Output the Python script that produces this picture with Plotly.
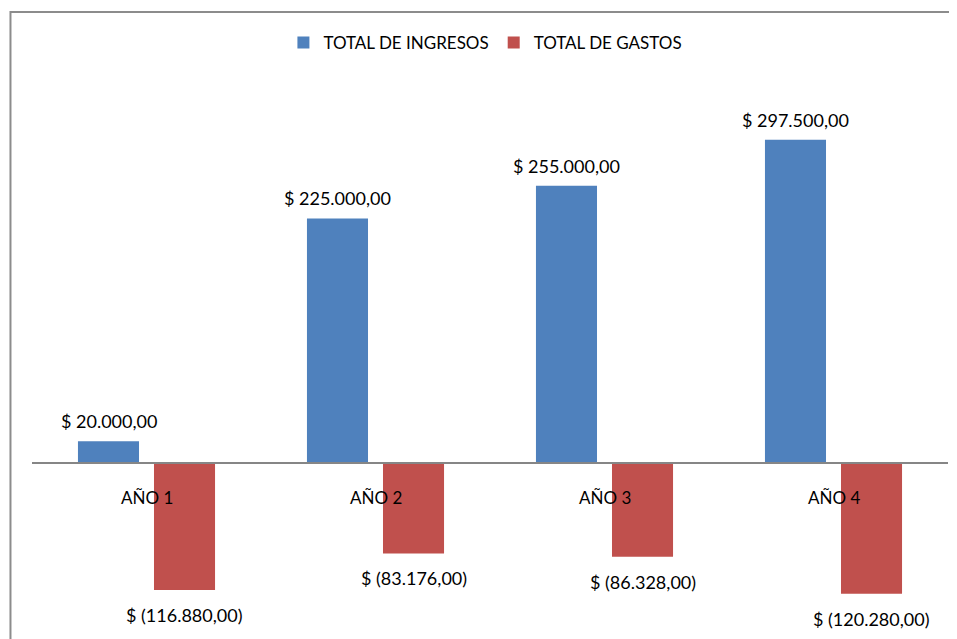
import plotly.graph_objects as go

categories = ["AÑO 1", "AÑO 2", "AÑO 3", "AÑO 4"]
ingresos = [20000, 225000, 255000, 297500]
gastos = [-116880, -83176, -86328, -120280]
ingresos_labels = ["$ 20.000,00", "$ 225.000,00", "$ 255.000,00", "$ 297.500,00"]
gastos_labels = ["$ (116.880,00)", "$ (83.176,00)", "$ (86.328,00)", "$ (120.280,00)"]

BLUE = "#4F81BD"
RED = "#C0504D"
FONT = "Lato"

fig = go.Figure()
fig.add_trace(go.Bar(name="TOTAL DE INGRESOS", x=categories, y=ingresos,
                     marker=dict(color=BLUE, line=dict(width=0))))
fig.add_trace(go.Bar(name="TOTAL DE GASTOS", x=categories, y=gastos,
                     marker=dict(color=RED, line=dict(width=0))))

annotations = []
for c, v, t in zip(categories, ingresos, ingresos_labels):
    annotations.append(dict(x=c, y=v, xref="x", yref="y", text=t, showarrow=False,
                            xshift=-38, yshift=20, yanchor="middle",
                            font=dict(family=FONT, size=18, color="#000000")))
for c, v, t in zip(categories, gastos, gastos_labels):
    annotations.append(dict(x=c, y=v, xref="x", yref="y", text=t, showarrow=False,
                            xshift=38, yshift=-25, yanchor="middle",
                            font=dict(family=FONT, size=18, color="#000000")))
for c in categories:
    annotations.append(dict(x=c, y=0, xref="x", yref="y", text=c, showarrow=False,
                            yshift=-34, yanchor="middle",
                            font=dict(family=FONT, size=17, color="#000000")))

fig.update_layout(
    width=957, height=639,
    margin=dict(l=24, r=17, t=92, b=17),
    paper_bgcolor="white", plot_bgcolor="white",
    barmode="group", bargap=0.336, bargroupgap=0.197,
    font=dict(family=FONT, size=17, color="#000000"),
    showlegend=True,
    legend=dict(orientation="h", x=0.495, xanchor="center", y=1.1075, yanchor="middle",
                font=dict(family=FONT, size=17, color="#000000"),
                itemwidth=30, traceorder="normal"),
    xaxis=dict(range=[-0.5, 3.5], showticklabels=False, showline=False,
               showgrid=False, zeroline=False, ticks=""),
    yaxis=dict(range=[-153640, 333960], visible=False, showgrid=False, zeroline=False),
    annotations=annotations,
    shapes=[
        dict(type="line", xref="paper", yref="y", x0=0, x1=1, y0=0, y1=0,
             line=dict(color="#868686", width=2), layer="above"),
        dict(type="rect", xref="paper", yref="paper", x0=-0.0235, x1=1.05, y0=-0.05, y1=1.166,
             line=dict(color="#8C8C8C", width=2), fillcolor="rgba(0,0,0,0)", layer="above"),
    ],
)

fig.write_html("out.html")
